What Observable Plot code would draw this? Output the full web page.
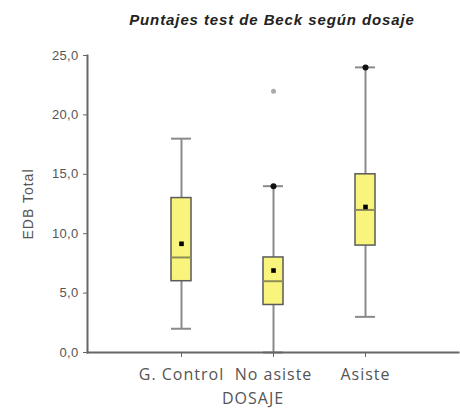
<!DOCTYPE html>
<html>
<head>
<meta charset="utf-8">
<script src="https://cdn.jsdelivr.net/npm/d3@7"></script>
<script src="https://cdn.jsdelivr.net/npm/@observablehq/plot@0.6"></script>
<style>
  html, body { margin: 0; padding: 0; background: #fff; }
  #wrap { width: 460px; }
  #title { height: 40px; box-sizing: border-box; padding-left: 84px; padding-top: 11px; text-align: center;
    font-family: "Liberation Sans", Arial, sans-serif; font-weight: bold; font-style: italic; font-size: 15px;
    letter-spacing: 0.9px; color: #222; }
  [aria-label="x-axis tick label"] text { letter-spacing: 1px; }
  [aria-label="y-axis label"] text { letter-spacing: 1px; }
  [aria-label="y-axis tick label"] text { letter-spacing: 0.3px; }
  .xlab text { letter-spacing: 1px; }
</style>
</head>
<body>
<div id="wrap">
  <div id="title">Puntajes test de Beck según dosaje</div>
  <div id="chart"></div>
</div>
<script>
const categories = ["G. Control", "No asiste", "Asiste"];
const lowWhisker = [2, 0, 3];
const q1 = [6, 4, 9];
const median = [8, 6, 12];
const q3 = [13, 8, 15];
const highWhisker = [18, 14, 24];
const mean = [9.15, 6.9, 12.25];
const outlierCategory = ["No asiste"];
const outlierValue = [22];
const extremeCategory = ["No asiste", "Asiste"];
const extremeValue = [14, 24];
const yTicks = [0, 5, 10, 15, 20, 25];
const xLabel = "DOSAJE";
const yLabel = "EDB Total";

const boxes = categories.map((c, i) => ({
  c, lo: lowWhisker[i], q1: q1[i], med: median[i], q3: q3[i], hi: highWhisker[i], mean: mean[i]
}));
const outliers = outlierCategory.map((c, i) => ({c, v: outlierValue[i]}));
const extremes = extremeCategory.map((c, i) => ({c, v: extremeValue[i]}));

const fmt = d => d.toFixed(1).replace(".", ",");

const chart = Plot.plot({
  width: 460,
  height: 372,
  marginLeft: 87,
  marginRight: 2,
  marginTop: 15,
  marginBottom: 60,
  style: {fontFamily: "'Liberation Sans', Arial, sans-serif", color: "#555", background: "#fff"},
  x: {type: "band", domain: categories, paddingInner: 0.784, paddingOuter: 0.892},
  y: {domain: [0, 25]},
  marks: [
    Plot.ruleX(boxes, {x: "c", y1: "lo", y2: "q1", stroke: "#8a8a8a", strokeWidth: 2}),
    Plot.ruleX(boxes, {x: "c", y1: "q3", y2: "hi", stroke: "#8a8a8a", strokeWidth: 2}),
    Plot.tickY(boxes, {x: "c", y: "lo", stroke: "#8a8a8a", strokeWidth: 2}),
    Plot.tickY(boxes, {x: "c", y: "hi", stroke: "#8a8a8a", strokeWidth: 2}),
    Plot.barY(boxes, {x: "c", y1: "q1", y2: "q3", fill: "#f9f47c", stroke: "#5a5a5a", strokeWidth: 1.5}),
    Plot.tickY(boxes, {x: "c", y: "med", stroke: "#8e8c58", strokeWidth: 2}),
    Plot.dot(boxes, {x: "c", y: "mean", symbol: "square", r: 2.6, fill: "#000", stroke: "none"}),
    Plot.dot(outliers, {x: "c", y: "v", r: 2.5, fill: "#aaa", stroke: "none"}),
    Plot.dot(extremes, {x: "c", y: "v", r: 3, fill: "#111", stroke: "none"}),
    Plot.axisY({ticks: yTicks, tickFormat: fmt, tickSize: 4, tickPadding: 5, fontSize: 13, stroke: "#666",
      label: null}),
    Plot.axisY({ticks: [], label: yLabel, labelAnchor: "center", labelOffset: 64, labelArrow: "none", fontSize: 14}),
    Plot.axisX({tickSize: 5, tickPadding: 11, fontSize: 16, fontFamily: "'Open Sans', sans-serif", stroke: "#666", label: null}),
    Plot.frame({anchor: "left", stroke: "#666", strokeWidth: 2}),
    Plot.frame({anchor: "bottom", stroke: "#666", strokeWidth: 2}),
    Plot.text([xLabel], {frameAnchor: "bottom", dx: -20, dy: 51, fontSize: 16, fontFamily: "'Open Sans', sans-serif", fill: "#555", className: "xlab"})
  ]
});
document.getElementById("chart").appendChild(chart);
</script>
</body>
</html>
